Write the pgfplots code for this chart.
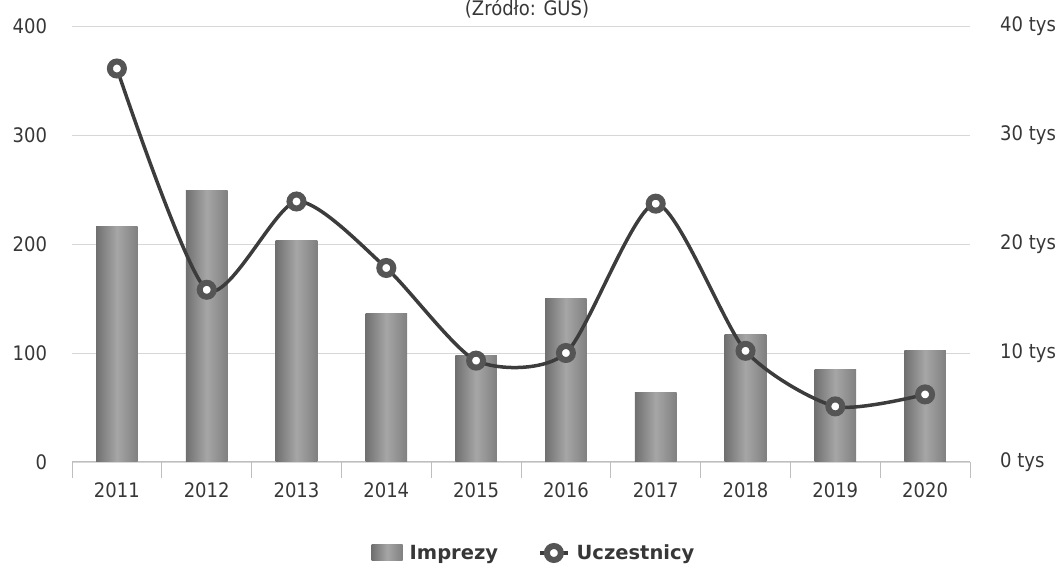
\documentclass[border=0pt]{standalone}
\usepackage{pgfplots}
\pgfplotsset{compat=1.18}
\usepackage{fontspec}
\setmainfont{DejaVu Sans}[FakeStretch=0.9]
\newfontfamily\legfont{DejaVu Sans}
\definecolor{barleft}{RGB}{112,112,112}
\definecolor{barmid}{RGB}{166,166,166}
\definecolor{barright}{RGB}{128,128,128}
\definecolor{linecol}{RGB}{60,60,60}
\definecolor{ringcol}{RGB}{85,85,85}
\definecolor{txt}{RGB}{55,55,55}
\definecolor{gridc}{RGB}{215,215,215}
\definecolor{axisc}{RGB}{190,190,190}
\pgfplotsset{
  lineleg/.style={legend image code/.code={\draw[##1, mark repeat=2, mark phase=2] plot coordinates {(0bp,0bp) (14bp,0bp) (28bp,0bp)};}},
  barleg/.style={legend image code/.code={\shade[left color=barleft, right color=barright, middle color=barmid] (0bp,-8bp) rectangle (31bp,8bp);}},
  barsty/.style={ybar, bar width=41.6bp, draw=none, left color=barleft, right color=barright, middle color=barmid, barleg},
}
\begin{document}
\begin{tikzpicture}
\useasboundingbox (0,0) rectangle (1061bp,565bp);
\node[anchor=base, inner sep=0pt, text=txt, font=\fontsize{20bp}{24bp}\selectfont] at (527bp,549bp) {(Źródło: GUS)};
\begin{axis}[
  at={(72bp,103bp)}, anchor=south west,
  scale only axis, width=898bp, height=436bp,
  xmin=-0.5, xmax=9.5, ymin=0, ymax=400,
  axis x line*=bottom, axis y line*=left,
  x axis line style={-, draw=axisc, line width=1bp},
  y axis line style={draw=none},
  /pgf/number format/assume math mode=true,
  xtick={0,...,9},
  xticklabels={2011,2012,2013,2014,2015,2016,2017,2018,2019,2020},
  minor xtick={-0.5,0.5,...,9.5},
  tick align=outside,
  major tick length=0pt,
  minor tick length=16bp,
  xtick style={draw=axisc, line width=1bp},
  ytick={0,100,200,300,400},
  yticklabels={0,100,200,300,400},
  ytick style={draw=none},
  ymajorgrids,
  grid style={draw=gridc, line width=0.9bp},
  tick label style={font=\fontsize{20bp}{24bp}\selectfont, text=txt, inner sep=0pt},
  xticklabel shift=20.7bp,
  yticklabel shift=24.7bp,
  legend style={
    at={(axis description cs:0.5134,-0.2087)}, anchor=center,
    draw=none, fill=none, inner sep=0pt,
    font=\legfont\bfseries\fontsize{19.5bp}{23bp}\selectfont, text=txt,
    nodes={inner sep=0pt},
    /tikz/every odd column/.append style={column sep=7bp},
    /tikz/every even column/.append style={column sep=40bp},
  },
  legend columns=2,
]
\addplot[barsty] coordinates {(0,216)};
\addlegendentry{Imprezy}
\addplot[barsty, forget plot] coordinates {(1,249)};
\addplot[barsty, forget plot] coordinates {(2,203)};
\addplot[barsty, forget plot] coordinates {(3,136)};
\addplot[barsty, forget plot] coordinates {(4,98)};
\addplot[barsty, forget plot] coordinates {(5,150)};
\addplot[barsty, forget plot] coordinates {(6,64)};
\addplot[barsty, forget plot] coordinates {(7,117)};
\addplot[barsty, forget plot] coordinates {(8,85)};
\addplot[barsty, forget plot] coordinates {(9,102)};
\addlegendimage{line width=3.5bp, color=linecol, mark=*, mark size=7bp,
  mark options={fill=white, draw=ringcol, line width=6bp}, lineleg}
\addlegendentry{Uczestnicy}
\end{axis}
\begin{axis}[
  at={(72bp,103bp)}, anchor=south west,
  scale only axis, width=898bp, height=436bp,
  xmin=-0.5, xmax=9.5, ymin=0, ymax=40,
  axis x line=none, axis y line*=right,
  y axis line style={draw=none},
  ytick={0,10,20,30,40},
  yticklabels={0 tys,10 tys,20 tys,30 tys,40 tys},
  ytick style={draw=none},
  major tick length=0pt,
  tick label style={font=\fontsize{20bp}{24bp}\selectfont, text=txt, inner sep=0pt},
  yticklabel shift=30bp,
]
\addplot[smooth, tension=0.42, line width=3.5bp, color=linecol, mark=*, mark size=7bp,
  mark options={fill=white, draw=ringcol, line width=6bp}]
  coordinates {(0,36.1) (1,15.8) (2,23.9) (3,17.8) (4,9.3) (5,10.0) (6,23.7) (7,10.2) (8,5.1) (9,6.2)};
\end{axis}
\end{tikzpicture}
\end{document}
